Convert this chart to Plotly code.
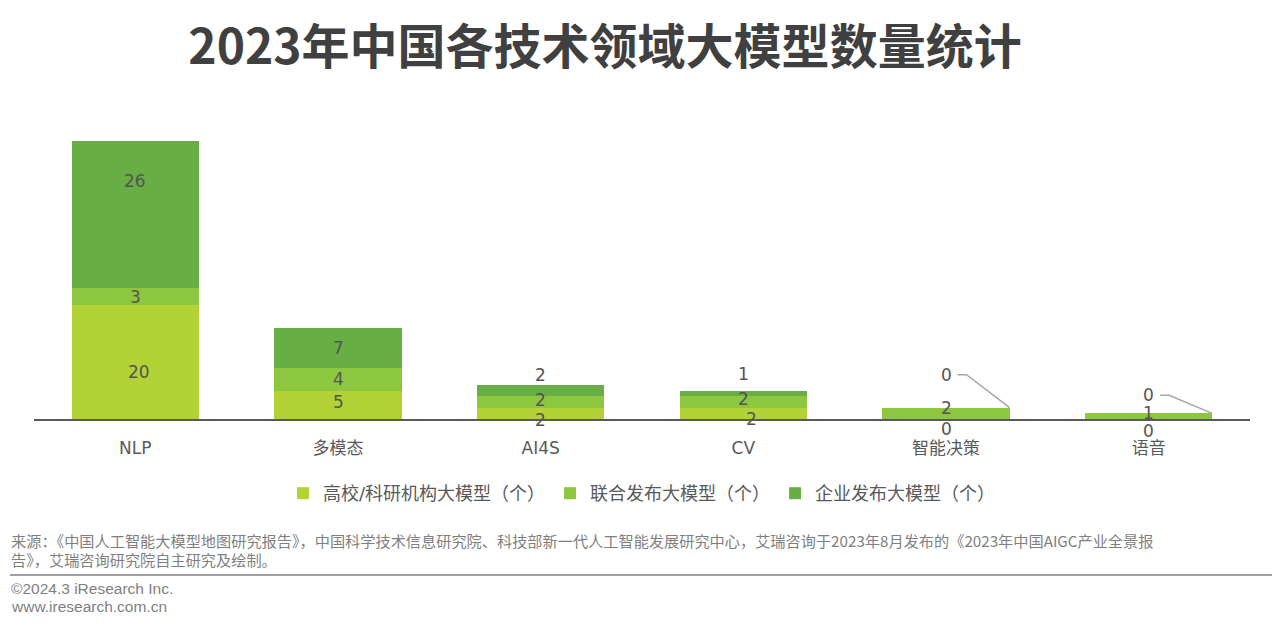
import plotly.graph_objects as go

categories = ["NLP", "多模态", "AI4S", "CV", "智能决策", "语音"]
univ = [20, 5, 2, 2, 0, 0]
joint = [3, 4, 2, 2, 2, 1]
corp = [26, 7, 2, 1, 0, 0]
series_names = ["高校/科研机构大模型（个）", "联合发布大模型（个）", "企业发布大模型（个）"]
colors = ["#B2D235", "#8DC63F", "#67AE45"]

# label pixel offsets (style), per series per category: (xshift, yshift)
label_shift = [
    [(4, -10), (0, 3), (0, -7), (8, -6), (0, -10), (0, -12)],
    [(0, 0), (0, 0), (0, 2), (0, 3), (0, 5), (0, 3)],
    [(0, 34), (0, 0), (0, 16), (0, 19), (0, 33), (0, 18)],
]

BAR_W = 0.627
FONT = "DejaVu Sans, Verdana, Noto Sans CJK SC"
CJK = "Noto Sans CJK SC"
OFF = 8  # page body margin

# plot area in window pixels: x 34..1250, y 135..419
def px(xw):
    return (xw - 34) / 1216

def py(yw):
    return (419 - yw) / 284

fig = go.Figure()
series = [univ, joint, corp]
for name, vals, col in zip(series_names, series, colors):
    fig.add_trace(go.Bar(x=categories, y=vals, name=name, marker=dict(color=col, line=dict(width=0)),
                         width=BAR_W, hoverinfo="x+y+name"))

annotations = []
for s, vals in enumerate(series):
    for i, c in enumerate(categories):
        base = sum(series[k][i] for k in range(s))
        ymid = base + vals[i] / 2
        xs, ys = label_shift[s][i]
        annotations.append(dict(x=c, y=ymid, xref="x", yref="y", text=str(vals[i]), showarrow=False,
                                xshift=xs, yshift=ys, borderpad=0,
                                font=dict(family=FONT, size=17, color="#545454")))

shapes = []
for i, c in enumerate(categories):
    if corp[i] == 0:
        total = univ[i] + joint[i] + corp[i]
        rise = label_shift[2][i][1]
        shapes.append(dict(type="path", xref="x", yref="y", xsizemode="pixel", ysizemode="pixel",
                           xanchor=i + BAR_W / 2, yanchor=total,
                           path=f"M -52,{rise} L -43,{rise} L 0,0",
                           line=dict(color="#A6A6A6", width=1.5)))

# footer divider
shapes.append(dict(type="line", xref="paper", yref="paper", x0=px(10), x1=px(1275),
                   y0=py(575), y1=py(575), line=dict(color="#808080", width=1.5)))

SRC_FONT = dict(family=CJK, size=15.2, color="#7F7F7F")
src_lines = ["来源：《中国人工智能大模型地图研究报告》，中国科学技术信息研究院、科技部新一代人工智能发展研究中心，艾瑞咨询于2023年8月发布的《2023年中国AIGC产业全景报",
             "告》，艾瑞咨询研究院自主研究及绘制。"]
for line, yw in zip(src_lines, [540, 559]):
    annotations.append(dict(xref="paper", yref="paper", x=px(10), y=py(yw), xanchor="left", yanchor="middle",
                            text=line, showarrow=False, align="left", font=SRC_FONT, borderpad=0))
for line, yw in zip(["©2024.3 iResearch Inc.", "www.iresearch.com.cn"], [588, 606]):
    annotations.append(dict(xref="paper", yref="paper", x=px(10), y=py(yw), xanchor="left", yanchor="middle",
                            text=line, showarrow=False, align="left", borderpad=0,
                            font=dict(family="Liberation Sans Narrow, Liberation Sans", size=15.5, color="#7F7F7F")))

fig.update_layout(
    width=1280, height=626,
    margin=dict(l=34 - OFF, r=1280 - 1250 + OFF, t=135 - OFF, b=626 - 419 + OFF, autoexpand=False),
    paper_bgcolor="white", plot_bgcolor="white",
    barmode="stack",
    title=dict(text="<b>2023年中国各技术领域大模型数量统计</b>", xref="container", yref="container",
               x=(605 - OFF) / 1280, y=1 - (47 - OFF) / 626, xanchor="center", yanchor="middle",
               font=dict(family=CJK, size=48, color="#404040")),
    xaxis=dict(showgrid=False, showline=True, linecolor="#595959", linewidth=1.5, ticks="",
               tickfont=dict(family=FONT, size=17, color="#595959"), ticklabelstandoff=13,
               range=[-0.5, 5.5]),
    yaxis=dict(visible=False, range=[0, 50]),
    legend=dict(orientation="h", x=0.5, xanchor="center", y=py(475), yanchor="top",
                font=dict(family=FONT, size=18, color="#595959"), itemwidth=30, traceorder="normal",
                bgcolor="rgba(0,0,0,0)"),
    annotations=annotations,
    shapes=shapes,
    showlegend=True,
)

fig.write_html("out.html")
